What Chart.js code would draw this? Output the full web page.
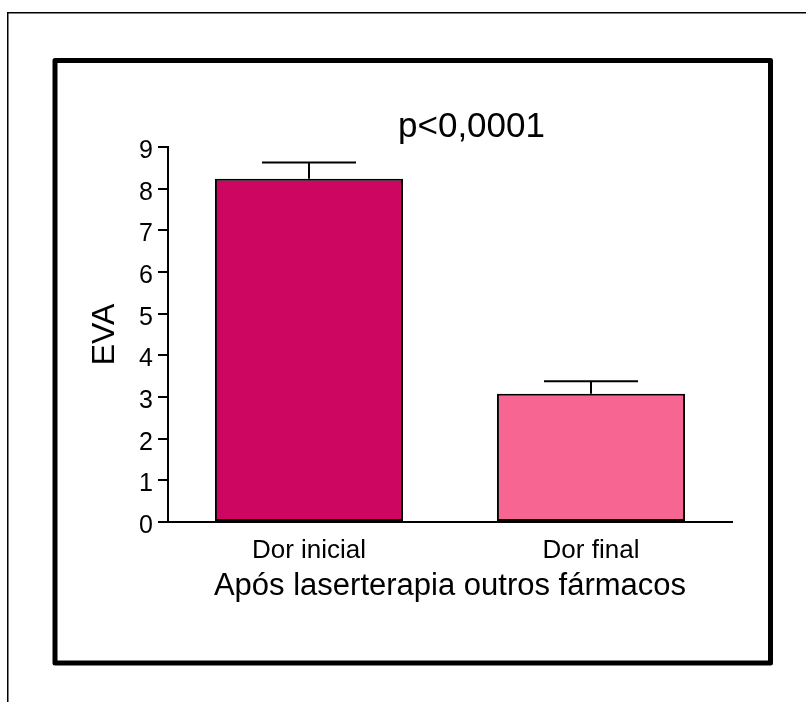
<!DOCTYPE html>
<html>
<head>
<meta charset="utf-8">
<title>EVA – Após laserterapia outros fármacos</title>
<script src="https://cdn.jsdelivr.net/npm/chart.js@4/dist/chart.umd.min.js"></script>
<style>
  html, body { margin: 0; padding: 0; background: #fff; }
  canvas { display: block; }
</style>
</head>
<body>
<canvas id="chart" width="806" height="702"></canvas>
<script>
// Pain score (EVA) before and after treatment: mean and standard error
const categories = ['Dor inicial', 'Dor final'];
const meanValues = [8.24, 3.08];
const semValues = [0.39, 0.30];
const barColors = ['#CD0761', '#F76593'];
const yTickValues = [0, 1, 2, 3, 4, 5, 6, 7, 8, 9];
const yAxisTitle = 'EVA';
const xAxisTitle = 'Após laserterapia outros fármacos';
const pValueText = 'p<0,0001';

const FONT = '"Liberation Sans", Arial, Helvetica, sans-serif';

function drawText(ctx, text, x, y, size, align) {
  ctx.save();
  ctx.font = size + 'px ' + FONT;
  ctx.fillStyle = '#000';
  ctx.textAlign = align;
  ctx.textBaseline = 'alphabetic';
  ctx.fillText(text, x, y);
  ctx.restore();
}

// Frames around the figure
const framePlugin = {
  id: 'frames',
  beforeDraw(chart) {
    const ctx = chart.ctx;
    ctx.save();
    ctx.strokeStyle = '#000';
    ctx.lineWidth = 1.5;
    ctx.beginPath();
    ctx.moveTo(7.75, chart.height);
    ctx.lineTo(7.75, 12.75);
    ctx.lineTo(chart.width, 12.75);
    ctx.stroke();
    ctx.lineWidth = 5;
    ctx.lineJoin = 'round';
    ctx.strokeRect(55, 60.5, 715.5, 602.5);
    ctx.restore();
  }
};

// Upper standard-error whiskers on each bar
const errorBarPlugin = {
  id: 'errorBars',
  afterDatasetsDraw(chart) {
    const ctx = chart.ctx;
    const meta = chart.getDatasetMeta(0);
    const y = chart.scales.y;
    ctx.save();
    ctx.strokeStyle = '#000';
    ctx.lineWidth = 2;
    meta.data.forEach((bar, i) => {
      const top = y.getPixelForValue(meanValues[i] + semValues[i]);
      const base = y.getPixelForValue(meanValues[i]);
      const half = bar.width / 4;
      ctx.beginPath();
      ctx.moveTo(bar.x, base);
      ctx.lineTo(bar.x, top);
      ctx.moveTo(bar.x - half, top);
      ctx.lineTo(bar.x + half, top);
      ctx.stroke();
    });
    ctx.restore();
  }
};

// Tick labels, axis titles and the p-value annotation
const textPlugin = {
  id: 'texts',
  afterDraw(chart) {
    const ctx = chart.ctx;
    const x = chart.scales.x;
    const y = chart.scales.y;
    const area = chart.chartArea;
    yTickValues.forEach(v => {
      drawText(ctx, String(v), y.right - 15, y.getPixelForValue(v) + 11, 25, 'right');
    });
    categories.forEach((c, i) => {
      drawText(ctx, c, x.getPixelForValue(i), area.bottom + 36, 26, 'center');
    });
    drawText(ctx, xAxisTitle, (area.left + area.right) / 2, area.bottom + 73, 31, 'center');
    drawText(ctx, pValueText, 471.5, 137, 35, 'center');
    ctx.save();
    ctx.font = '32px ' + FONT;
    ctx.fillStyle = '#000';
    ctx.textAlign = 'center';
    ctx.textBaseline = 'alphabetic';
    ctx.translate(114, (area.top + area.bottom) / 2);
    ctx.rotate(-Math.PI / 2);
    ctx.fillText(yAxisTitle, 0, 0);
    ctx.restore();
  }
};

new Chart(document.getElementById('chart'), {
  type: 'bar',
  data: {
    labels: categories,
    datasets: [{
      data: meanValues,
      backgroundColor: barColors,
      borderColor: '#000',
      borderWidth: 2,
      borderSkipped: false,
      barPercentage: 0.667,
      categoryPercentage: 1.0
    }]
  },
  options: {
    responsive: false,
    animation: false,
    devicePixelRatio: 1,
    layout: { padding: { left: 118, right: 74, top: 147, bottom: 140 } },
    plugins: {
      legend: { display: false },
      tooltip: { enabled: false },
      title: { display: false }
    },
    scales: {
      x: {
        grid: { display: false },
        border: { display: true, color: '#000', width: 2 },
        ticks: { display: false },
        afterFit(scale) { scale.height = 40; }
      },
      y: {
        min: 0,
        max: 9,
        ticks: { display: false, stepSize: 1 },
        grid: {
          drawOnChartArea: false,
          drawTicks: true,
          tickLength: 10,
          color: '#000',
          lineWidth: 2
        },
        border: { display: true, color: '#000', width: 2 },
        afterFit(scale) { scale.width = 50; }
      }
    }
  },
  plugins: [framePlugin, errorBarPlugin, textPlugin]
});
</script>
</body>
</html>
